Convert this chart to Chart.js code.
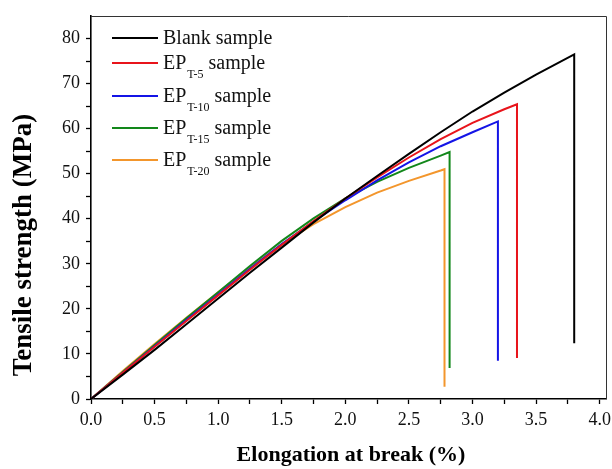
<!DOCTYPE html>
<html>
<head>
<meta charset="utf-8">
<script src="https://cdn.jsdelivr.net/npm/chart.js@4.4.1/dist/chart.umd.min.js"></script>
<style>
  html, body { margin: 0; padding: 0; background: #fff; }
  #wrap { width: 612px; height: 469px; }
</style>
</head>
<body>
<div id="wrap"><canvas id="chart" width="612" height="469"></canvas></div>
<script>
// ── Data ──────────────────────────────────────────────────────
const strainBlank = [0, 0.25, 0.5, 0.75, 1.0, 1.25, 1.5, 1.75, 2.0, 2.25, 2.5, 2.75, 3.0, 3.25, 3.5, 3.8, 3.8];
const stressBlank = [0, 5.4, 10.9, 16.6, 22.3, 28.0, 33.6, 39.2, 44.5, 49.5, 54.4, 59.2, 63.8, 68.0, 72.0, 76.5, 12.4];

const strainT5 = [0, 0.25, 0.5, 0.75, 1.0, 1.25, 1.5, 1.75, 2.0, 2.25, 2.5, 2.75, 3.0, 3.25, 3.35, 3.35];
const stressT5 = [0, 5.8, 11.6, 17.3, 23.0, 28.7, 34.2, 39.5, 44.5, 49.2, 53.6, 57.7, 61.3, 64.3, 65.4, 9.1];

const strainT10 = [0, 0.25, 0.5, 0.75, 1.0, 1.25, 1.5, 1.75, 2.0, 2.25, 2.5, 2.75, 3.0, 3.2, 3.2];
const stressT10 = [0, 5.8, 11.7, 17.5, 23.2, 28.9, 34.4, 39.4, 44.1, 48.5, 52.5, 56.1, 59.2, 61.6, 8.5];

const strainT15 = [0, 0.25, 0.5, 0.75, 1.0, 1.25, 1.5, 1.75, 2.0, 2.25, 2.5, 2.75, 2.82, 2.82];
const stressT15 = [0, 6.0, 12.0, 17.9, 23.7, 29.5, 35.1, 40.1, 44.5, 48.2, 51.3, 54.0, 54.8, 6.9];

const strainT20 = [0, 0.25, 0.5, 0.75, 1.0, 1.25, 1.5, 1.75, 2.0, 2.25, 2.5, 2.75, 2.78, 2.78];
const stressT20 = [0, 6.2, 12.2, 18.0, 23.7, 29.2, 34.3, 38.8, 42.6, 45.8, 48.4, 50.7, 51.0, 2.7];

const seriesNames = ['Blank sample', 'EP', 'EP', 'EP', 'EP'];
const seriesSubs  = ['', 'T-5', 'T-10', 'T-15', 'T-20'];
const COLORS = ['#000000', '#e8141b', '#1414e6', '#12871a', '#f3962c'];

const xTicks = [0, 0.25, 0.5, 0.75, 1.0, 1.25, 1.5, 1.75, 2.0, 2.25, 2.5, 2.75, 3.0, 3.25, 3.5, 3.75, 4.0];
const yTicks = [0, 5, 10, 15, 20, 25, 30, 35, 40, 45, 50, 55, 60, 65, 70, 75, 80];

const SERIF = '"Liberation Serif", "Times New Roman", serif';

function pts(xs, ys) {
  return xs.map((x, i) => ({ x, y: ys[i] }));
}

const curves = [
  pts(strainBlank, stressBlank),
  pts(strainT5, stressT5),
  pts(strainT10, stressT10),
  pts(strainT15, stressT15),
  pts(strainT20, stressT20),
];

// ── Frame, legend and axis titles ─────────────────────────────
const decor = {
  id: 'decor',
  afterDraw(chart) {
    const { ctx, chartArea: a } = chart;
    ctx.save();
    // top + right frame
    ctx.strokeStyle = '#333';
    ctx.lineWidth = 1;
    ctx.beginPath();
    ctx.moveTo(a.left, a.top + 0.5);
    ctx.lineTo(a.right + 0.5, a.top + 0.5);
    ctx.lineTo(a.right + 0.5, a.bottom);
    ctx.stroke();

    // legend
    const rows = [38, 63, 96, 128, 160];
    ctx.fillStyle = '#111';
    ctx.textBaseline = 'alphabetic';
    rows.forEach((y, i) => {
      ctx.strokeStyle = COLORS[i];
      ctx.lineWidth = 2;
      ctx.beginPath();
      ctx.moveTo(112, y);
      ctx.lineTo(158, y);
      ctx.stroke();
      let x = 163;
      ctx.font = '20px ' + SERIF;
      ctx.fillText(seriesNames[i], x, y + 6);
      if (seriesSubs[i]) {
        x += ctx.measureText(seriesNames[i]).width + 1;
        ctx.font = '12px ' + SERIF;
        ctx.fillText(seriesSubs[i], x, y + 15);
        x += ctx.measureText(seriesSubs[i]).width + 5;
        ctx.font = '20px ' + SERIF;
        ctx.fillText('sample', x, y + 6);
      }
    });

    // axis titles
    ctx.fillStyle = '#000';
    ctx.textAlign = 'center';
    ctx.textBaseline = 'middle';
    ctx.font = 'bold 22px ' + SERIF;
    ctx.fillText('Elongation at break (%)', 351, 455);
    ctx.translate(24, 245);
    ctx.rotate(-Math.PI / 2);
    ctx.font = 'bold 27px ' + SERIF;
    ctx.fillText('Tensile strength (MPa)', 0, 0);
    ctx.restore();
  }
};

new Chart(document.getElementById('chart'), {
  type: 'scatter',
  data: {
    datasets: curves.map((d, i) => ({
      label: seriesNames[i] + seriesSubs[i],
      data: d,
      showLine: true,
      borderColor: COLORS[i],
      backgroundColor: COLORS[i],
      borderWidth: 2,
      pointRadius: 0,
      tension: 0,
    }))
  },
  options: {
    responsive: false,
    animation: false,
    layout: { padding: { top: 16, right: 6, left: 0, bottom: 0 } },
    plugins: { legend: { display: false }, tooltip: { enabled: false } },
    scales: {
      x: {
        type: 'linear',
        min: 0,
        max: 4.05,
        afterBuildTicks: s => { s.ticks = xTicks.map(v => ({ value: v })); },
        afterFit: s => { s.height = 70; s.paddingLeft = 0; s.paddingRight = 0; },
        ticks: {
          autoSkip: false,
          maxRotation: 0,
          padding: 5,
          color: '#111',
          font: { family: SERIF, size: 18 },
          callback: v => (Math.round(v * 100) % 50 === 0 ? v.toFixed(1) : ''),
        },
        grid: { drawOnChartArea: false, drawTicks: true, tickLength: 5, tickColor: '#000', tickWidth: 1.3 },
        border: { color: '#000', width: 1.6 },
      },
      y: {
        min: 0,
        max: 85,
        afterBuildTicks: s => { s.ticks = yTicks.map(v => ({ value: v })); },
        afterFit: s => { s.width = 91; s.paddingTop = 0; s.paddingBottom = 0; },
        ticks: {
          autoSkip: false,
          padding: 6,
          color: '#111',
          font: { family: SERIF, size: 18 },
          callback: v => (v % 10 === 0 ? String(v) : ''),
        },
        grid: { drawOnChartArea: false, drawTicks: true, tickLength: 5, tickColor: '#000', tickWidth: 1.3 },
        border: { color: '#000', width: 1.6 },
      }
    }
  },
  plugins: [decor]
});
</script>
</body>
</html>
